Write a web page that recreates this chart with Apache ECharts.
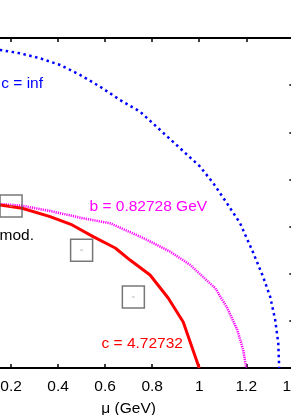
<!DOCTYPE html>
<html>
<head>
<meta charset="utf-8">
<script src="https://cdn.jsdelivr.net/npm/echarts@6/dist/echarts.min.js"></script>
<style>
html,body{margin:0;padding:0;background:#fff;}
#c{width:291px;height:415px;}
</style>
</head>
<body>
<div id="c"></div>
<script>
// x ticks
var xTicks = [0, 0.2, 0.4, 0.6, 0.8, 1, 1.2, 1.4];
// blue dotted: c = inf
var muInf = [0, 0.08, 0.153, 0.238, 0.323, 0.409, 0.494, 0.579, 0.664, 0.749, 0.834, 0.919, 1.004, 1.060, 1.118, 1.174, 1.230, 1.272, 1.302, 1.323, 1.336, 1.340];
var tInf  = [0.3415, 0.340, 0.3373, 0.3338, 0.3285, 0.3214, 0.3108, 0.2983, 0.2842, 0.2718, 0.2524, 0.2330, 0.2135, 0.1959, 0.1747, 0.1535, 0.1220, 0.0965, 0.0753, 0.0509, 0.0265, 0];
// magenta dotted: b = 0.82728 GeV
var muB = [0, 0.08, 0.153, 0.247, 0.366, 0.506, 0.621, 0.762, 0.877, 0.962, 1.038, 1.068, 1.119, 1.162, 1.187, 1.200];
var tB  = [0.1760, 0.1752, 0.1739, 0.1721, 0.1665, 0.1588, 0.1535, 0.1379, 0.1233, 0.1092, 0.0915, 0.0848, 0.0636, 0.0403, 0.0191, 0];
// red solid: c = 4.72732
var muC = [0, 0.08, 0.153, 0.247, 0.366, 0.460, 0.549, 0.643, 0.706, 0.791, 0.868, 0.932, 1.0];
var tC  = [0.1760, 0.1748, 0.1729, 0.1694, 0.1605, 0.1517, 0.1393, 0.1273, 0.1145, 0.0986, 0.0742, 0.0488, 0];
// square data points
var muPts = [0.20, 0.50, 0.72];
var tPts  = [0.1718, 0.125, 0.0753];

function pairs(a, b) { return a.map(function (v, i) { return [v, b[i]]; }); }

var chart = echarts.init(document.getElementById('c'), null, {renderer: 'canvas'});
var FONT = '"Liberation Sans", Arial, Helvetica, sans-serif';
var axLine = {show: true, onZero: false, lineStyle: {color: '#000', width: 2}};
var axTick = {show: true, inside: true, length: 4, lineStyle: {color: '#000', width: 1.5}};

chart.setOption({
  animation: false,
  backgroundColor: '#fff',
  grid: {left: -36, right: -2.3, top: 38, bottom: 47, containLabel: false, outerBoundsMode: 'none'},
  xAxis: [{
    type: 'value', position: 'bottom', min: 0, max: 1.4, interval: 0.2,
    axisLine: axLine, axisTick: axTick, splitLine: {show: false},
    axisLabel: {color: '#000', fontSize: 15.5, fontFamily: FONT, margin: 10.5},
    name: 'μ (GeV)', nameLocation: 'middle', nameGap: 33,
    nameTextStyle: {color: '#000', fontSize: 15.5, fontFamily: FONT}
  }, {
    type: 'value', position: 'top', min: 0, max: 1.4, interval: 0.2,
    axisLine: axLine, axisTick: axTick, splitLine: {show: false}, axisLabel: {show: false}
  }],
  yAxis: [{
    type: 'value', position: 'left', min: 0, max: 0.35, interval: 0.05,
    axisLine: axLine, axisTick: axTick, splitLine: {show: false},
    axisLabel: {color: '#000', fontSize: 15.5, fontFamily: FONT}
  }, {
    type: 'value', position: 'right', min: 0, max: 0.35, interval: 0.05,
    axisLine: axLine, axisTick: axTick, splitLine: {show: false}, axisLabel: {show: false}
  }],
  series: [{
    type: 'line', data: pairs(muInf, tInf), symbol: 'none', clip: true,
    lineStyle: {color: '#0000ff', width: 2.5, type: [2.5, 3.5], cap: 'butt'}
  }, {
    type: 'line', data: pairs(muB, tB), symbol: 'none', clip: true,
    lineStyle: {color: '#ff00ff', width: 2.5, type: [1.2, 1], cap: 'butt'}
  }, {
    type: 'line', data: pairs(muC, tC), symbol: 'none', clip: true,
    lineStyle: {color: '#ff0000', width: 3}
  }, {
    type: 'scatter', data: pairs(muPts, tPts), symbol: 'rect', symbolSize: 22,
    itemStyle: {color: 'rgba(0,0,0,0)', borderColor: '#555', borderWidth: 1.5}, z: 5
  }, {
    type: 'scatter', data: pairs(muPts, tPts), symbol: 'rect', symbolSize: [3, 1],
    itemStyle: {color: '#aaa'}, z: 6
  }],
  graphic: [
    {type: 'text', x: 43, y: 84, style: {text: 'c = inf', fill: '#0000ff', font: '15.5px ' + FONT, align: 'right', verticalAlign: 'middle'}},
    {type: 'text', x: 34, y: 235.5, style: {text: 'mod.', fill: '#000', font: '15.5px ' + FONT, align: 'right', verticalAlign: 'middle'}},
    {type: 'text', x: 89.5, y: 206.5, style: {text: 'b = 0.82728 GeV', fill: '#ff00ff', font: '15.5px ' + FONT, align: 'left', verticalAlign: 'middle'}},
    {type: 'text', x: 101.5, y: 343.5, style: {text: 'c = 4.72732', fill: '#ff0000', font: '15.5px ' + FONT, align: 'left', verticalAlign: 'middle'}}
  ]
});
</script>
</body>
</html>
